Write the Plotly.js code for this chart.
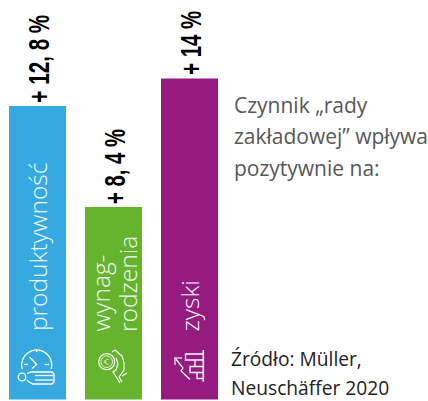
<!DOCTYPE html>
<html><head><meta charset="utf-8">
<script src="https://cdn.plot.ly/plotly-3.0.1.min.js"></script>
<style>html,body{margin:0;padding:0;background:#fff}#c{width:428px;height:401px}</style></head>
<body><div id="c"></div>
<script>
const categories = ["produktywność", "wynag-", "rodzenia", "zyski"];
const values = [12.8, 8.4, 14];
const valueLabels = ["+ 12, 8 %", "+ 8, 4 %", "+ 14 %"];
const colors = ["#36a9e1", "#66b32e", "#951b81"];
const labelLengths = [88, 75, 64];
const W = 428, H = 401;
const px = x => x / W, py = y => 1 - y / H;
const xr = [-37.5 / 76, (W - 37.5) / 76];
const yu = 22.93;
const yr = [-1.5 / yu, 399.5 / yu];

const shapes = [];
const line = (pts, w = 1.3, c = "#fff") => shapes.push({
  type: "path", xref: "paper", yref: "paper",
  path: pts.map((p, i) => (i ? "L" : "M") + px(p[0]).toFixed(5) + "," + py(p[1]).toFixed(5)).join(" "),
  line: { color: c, width: w }
});
const circ = (cx, cy, r, w = 1.3, c = "#fff") => shapes.push({
  type: "circle", xref: "paper", yref: "paper",
  x0: px(cx - r), x1: px(cx + r), y0: py(cy + r), y1: py(cy - r), line: { color: c, width: w }
});
const arc = (cx, cy, r, a0, a1) => {
  const out = [];
  for (let i = 0; i <= 24; i++) {
    const a = (a0 + (a1 - a0) * i / 24) * Math.PI / 180;
    out.push([cx + r * Math.cos(a), cy + r * Math.sin(a)]);
  }
  return out;
};
// clock + person icon
line(arc(36.7, 365, 15, 165, 375));
line([[36.7, 349.5], [36.7, 352]]); line([[24, 364.5], [28, 364.5]]); line([[44.5, 364.5], [49, 364.5]]);
line([[29.5, 357], [36.7, 364.5], [32, 368.5]]);
circ(22, 377, 3.8);
line([[27, 373.5], [31, 372], [52, 372], [54, 374], [54, 382], [52, 384], [33, 384], [29, 382], [27, 380]]);
line([[35, 375.5], [53, 375.5]]); line([[35, 380], [53, 380]]);
// coin + hand icon
circ(106.7, 361.7, 8); circ(106.7, 361.7, 5.8, 0.8);
line(arc(107.5, 361.7, 2.4, 50, 310), 0.7); line([[103.8, 361], [106.5, 361]], 0.6); line([[103.8, 362.6], [106.5, 362.6]], 0.6);
line([[112, 352], [115, 350], [122, 356], [124, 362], [124, 370], [119, 377], [122, 382]], 1.1);
line([[116, 358], [118, 364], [116, 370], [113, 372], [117, 378], [120, 383]], 1.1);
line([[122, 376], [127, 373]], 1.1);
// chart + arrow icon
line([[203.3, 350], [203.3, 381.7]], 1.6);
line([[203, 354], [185.5, 354], [185.5, 360], [203, 360]]);
line([[195, 360], [195, 366.5]]);
line([[203, 366.5], [190, 366.5], [190, 372.5], [203, 372.5]]);
line([[197, 372.5], [197, 378.5], [203, 378.5]]);
line([[175, 358], [183, 368], [181, 371], [190, 379.5]]);
line([[174, 358], [182, 358]], 1.6, "#e3b9dc"); line([[175, 358], [175, 365]], 1.6, "#e3b9dc");

const annotations = [];
values.forEach((v, i) => {
  annotations.push({
    x: i, y: v, xref: "x", yref: "y", text: valueLabels[i], showarrow: false, textangle: -90,
    xanchor: "center", yanchor: "middle", yshift: labelLengths[i] / 2 + 3, xshift: 1,
    font: { family: "Liberation Sans", size: 30, color: "#000", weight: 700 }
  });
});
const catY = [333, 334, 334, 334], catX = [37, 100, 127, 189];
categories.forEach((c, i) => {
  annotations.push({
    xref: "paper", yref: "paper", x: px(catX[i]), y: py(catY[i]), text: c, showarrow: false, textangle: -90,
    xanchor: "center", yanchor: "bottom",
    font: { family: "Open Sans", size: 24.5, color: "#f2f9fc", weight: 300 }
  });
});
const notes = [
  ["Czynnik „rady", 232, 105, 21, "#575756"],
  ["zakładowej” wpływa", 232, 136, 21, "#575756"],
  ["pozytywnie na:", 232, 168, 21, "#575756"],
  ["Źródło: Müller,", 229, 358.5, 19.2, "#222222"],
  ["Neuschäffer 2020", 229, 387.5, 19.2, "#222222"]
];
notes.forEach(n => annotations.push({
  xref: "paper", yref: "paper", x: px(n[1]), y: py(n[2]), text: n[0], showarrow: false,
  xanchor: "left", yanchor: "middle",
  font: { family: "Open Sans", size: n[3], color: n[4] }
}));

Plotly.newPlot("c", [{
  type: "bar", x: [0, 1, 2], y: values, width: 0.75, marker: { color: colors, line: { width: 0 } }, hoverinfo: "skip"
}], {
  width: W, height: H, margin: { l: 0, r: 0, t: 0, b: 0 }, showlegend: false,
  paper_bgcolor: "#fff", plot_bgcolor: "#fff",
  xaxis: { range: xr, visible: false, fixedrange: true },
  yaxis: { range: yr, visible: false, fixedrange: true },
  shapes, annotations
}, { displayModeBar: false, staticPlot: true }).then(() => {
  // condense the bold value labels along their reading direction
  document.querySelectorAll("#c .annotation-text").forEach((t, i) => {
    if (i < 3) {
      const k = labelLengths[i] / t.getComputedTextLength();
      const b = t.getBBox();
      const cx = b.x + b.width / 2;
      const old = t.getAttribute("transform") || "";
      t.setAttribute("transform", old + ` translate(${cx},0) scale(${k},1) translate(${-cx},0)`);
    }
  });
});
</script></body></html>
